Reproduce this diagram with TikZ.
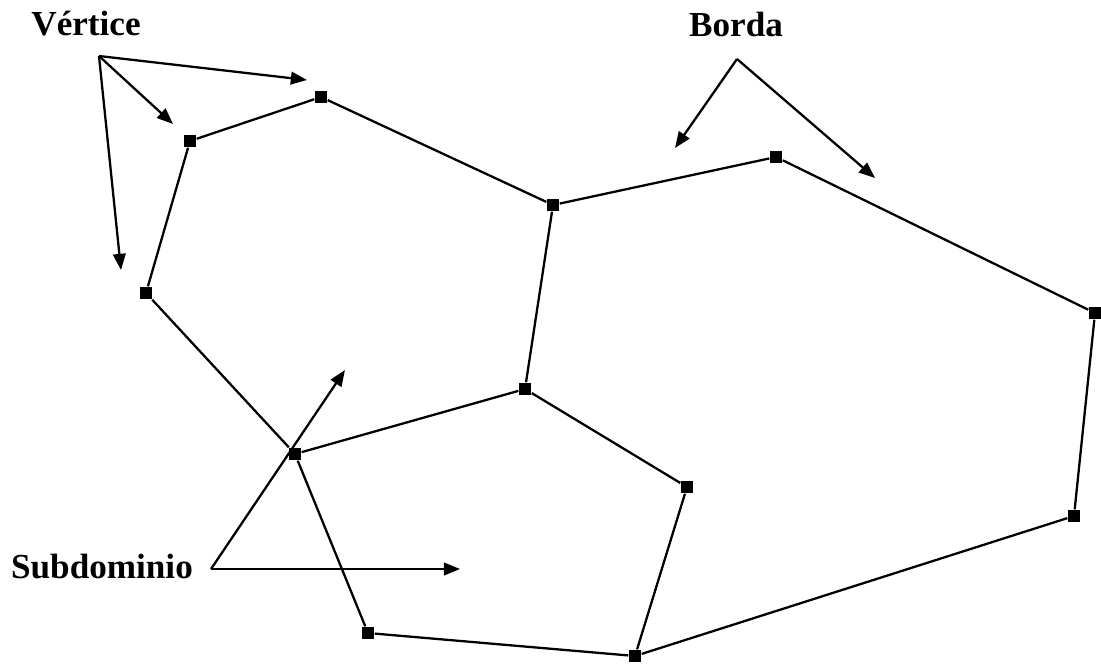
\documentclass[tikz,border=0pt]{standalone}
\usepackage{fontspec}
\setmainfont{Liberation Serif}
\usetikzlibrary{arrows.meta}
\tikzset{vtx/.style={rectangle,fill=black,inner sep=0pt,minimum size=0.12cm},
  edge/.style={line width=0.65pt},
  ptr/.style={line width=0.65pt,-{Triangle[length=4.6pt,width=3.6pt]}},
  lbl/.style={font=\bfseries,anchor=base,inner sep=0pt}}

\begin{document}
\begin{tikzpicture}
  \useasboundingbox (0,0) rectangle (11.01,6.63);
  \node[vtx] (A) at (3.21,5.66) {}; \node[vtx] (B) at (1.90,5.22) {}; \node[vtx] (C) at (1.46,3.70) {};
  \node[vtx] (D) at (5.53,4.58) {}; \node[vtx] (E) at (7.76,5.06) {}; \node[vtx] (F) at (10.95,3.50) {};
  \node[vtx] (G) at (10.74,1.47) {}; \node[vtx] (H) at (6.35,0.07) {}; \node[vtx] (I) at (3.68,0.30) {};
  \node[vtx] (J) at (2.95,2.09) {}; \node[vtx] (K) at (5.25,2.74) {}; \node[vtx] (L) at (6.87,1.76) {};
  \draw[edge] (A)--(B)--(C)--(J)--(I)--(H)--(G)--(F)--(E)--(D)--(A);
  \draw[edge] (D)--(K)--(J); \draw[edge] (K)--(L)--(H);
  \node[lbl] (vert) at (0.86,6.28) {Vértice};
  \node[lbl] (borda) at (7.36,6.27) {Borda};
  \node[lbl] (sub) at (1.02,0.85) {Subdominio};
  \coordinate (v0) at (0.99,6.07); \coordinate (b0) at (7.37,6.04); \coordinate (s0) at (2.11,0.94);
  \coordinate (v1) at (3.07,5.83); \coordinate (v2) at (1.73,5.39); \coordinate (v3) at (1.21,3.93);
  \coordinate (b1) at (6.75,5.15); \coordinate (b2) at (8.75,4.85);
  \coordinate (s1) at (3.45,2.93); \coordinate (s2) at (4.60,0.94);
  \draw[ptr] (v0)--(v1); \draw[ptr] (v0)--(v2); \draw[ptr] (v0)--(v3);
  \draw[ptr] (b0)--(b1); \draw[ptr] (b0)--(b2);
  \draw[ptr] (s0)--(s1); \draw[ptr] (s0)--(s2);
\end{tikzpicture}
\end{document}
